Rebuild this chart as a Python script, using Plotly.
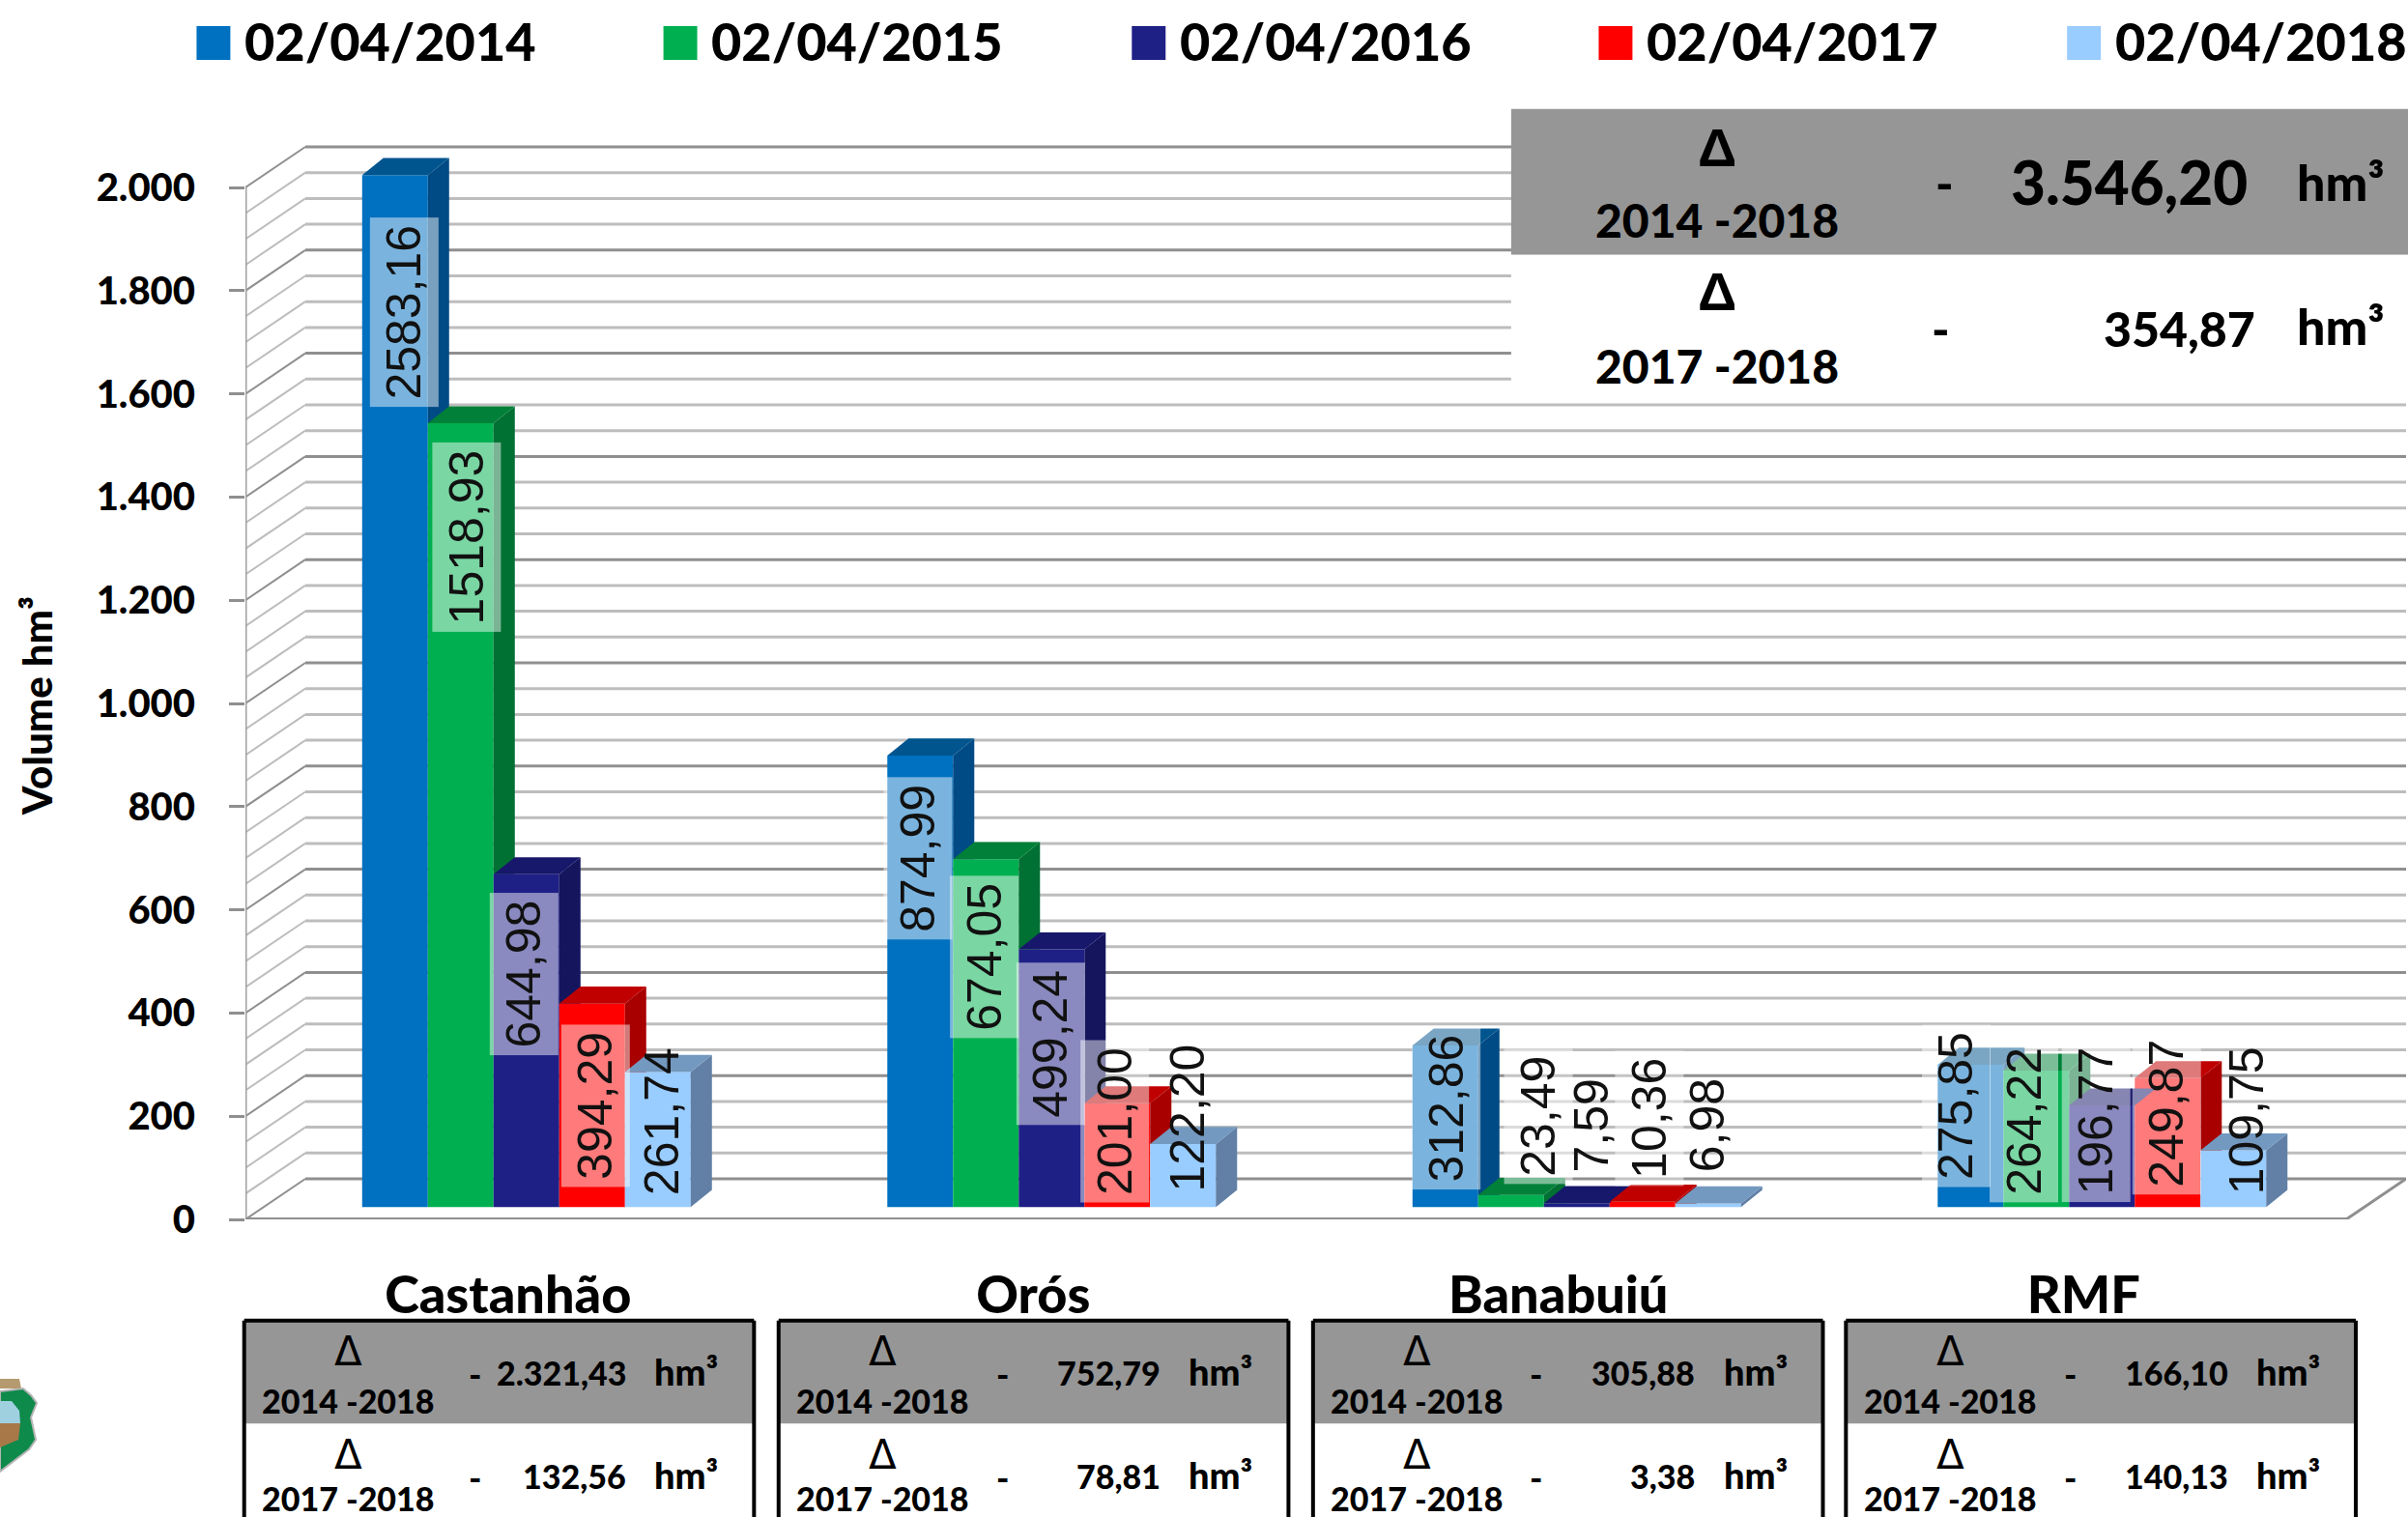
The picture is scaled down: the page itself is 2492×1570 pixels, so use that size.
import plotly.graph_objects as go

W, H = 2492, 1570
REF = 2492 / 1568  # full pixels per reference-view pixel

categories = ["Castanhão", "Orós", "Banabuiú", "RMF"]
series_names = ["02/04/2014", "02/04/2015", "02/04/2016", "02/04/2017", "02/04/2018"]
v2014 = [2583.16, 874.99, 312.86, 275.85]
v2015 = [1518.93, 674.05, 23.49, 264.22]
v2016 = [644.98, 499.24, 7.59, 196.77]
v2017 = [394.29, 201.00, 10.36, 249.87]
v2018 = [261.74, 122.20, 6.98, 109.75]
series_values = [v2014, v2015, v2016, v2017, v2018]
y_ticks = [0, 200, 400, 600, 800, 1000, 1200, 1400, 1600, 1800, 2000]
y_ticktext = ["0", "200", "400", "600", "800", "1.000", "1.200", "1.400", "1.600", "1.800", "2.000"]

summary_2014 = ["2.321,43", "752,79", "305,88", "166,10"]
summary_2017 = ["132,56", "78,81", "3,38", "140,13"]
total_2014 = "3.546,20"
total_2017 = "354,87"

front = ["#0070C0", "#00B050", "#1F2086", "#FF0000", "#99CCFF"]
side = ["#004A85", "#007033", "#15155E", "#A80000", "#6280A6"]
top = ["#00558F", "#008038", "#17176C", "#C00000", "#7399C0"]

WEIGHT = 900

# --- geometry of the plot box, in page pixels
L, R, T, B = 254.0, 2490.0, 140.0, 1262.0
UNIT = (1262 - 194) / 2000.0   # px per axis unit
CAT = 543.5                    # px per category
XMIN = -0.5
XMAX = XMIN + (R - L) / CAT
YMAX = (B - T) / UNIT
WALL_X, WALL_Y = 62 / CAT, 42 / UNIT     # depth of the back wall
BAR_Z_X, BAR_Z_Y = 19 / CAT, 24.0        # offset of the bar plane
DEPTH_X, DEPTH_Y = 22 / CAT, 33.0        # depth of one bar
BAR_W = 68 / CAT
GROUP_LEFT = -0.2778

def paper_x(px):
    return (px - L) / (R - L)

def paper_y(py):
    return (B - py) / (B - T)

def ax_x(rx):
    return (rx * REF - L) / CAT + XMIN

def ax_y(ry):
    return (B - ry * REF) / UNIT

fig = go.Figure()
shapes = []
annotations = []

# --- walls and grid, from the axis ticks
GRID_MINOR, GRID_MAJOR = "#BDBDBD", "#8F8F8F"
for level in range(0, 2001, 50):
    major = level % 200 == 0
    col = GRID_MAJOR if major else GRID_MINOR
    shapes.append(dict(type="line", xref="x", yref="y", layer="below",
                       x0=XMIN + WALL_X, x1=XMAX, y0=level + WALL_Y, y1=level + WALL_Y,
                       line=dict(color=col, width=3)))
    shapes.append(dict(type="line", xref="x", yref="y", layer="below",
                       x0=XMIN, x1=XMIN + WALL_X, y0=level, y1=level + WALL_Y,
                       line=dict(color=col, width=2)))
shapes += [
    dict(type="line", xref="x", yref="y", layer="below", x0=XMIN, x1=XMIN, y0=0, y1=2000,
         line=dict(color="#A0A0A0", width=3)),
    dict(type="line", xref="x", yref="y", layer="below", x0=XMIN, x1=3.5, y0=0, y1=0,
         line=dict(color="#8F8F8F", width=4)),
    dict(type="line", xref="x", yref="y", layer="below", x0=3.5, x1=3.5 + WALL_X, y0=0, y1=WALL_Y,
         line=dict(color="#8F8F8F", width=3)),
]

# --- 3D bars: front faces are real bars, sides and tops are polygons in axis units
for i, (name, vals) in enumerate(zip(series_names, series_values)):
    xs = [c + BAR_Z_X for c in range(len(categories))]
    shown = [min(v, 2000) for v in vals]
    offset = GROUP_LEFT - BAR_Z_X + i * BAR_W
    fig.add_trace(go.Bar(x=xs, y=shown, base=BAR_Z_Y, width=BAR_W, offset=offset, name=name,
                         marker=dict(color=front[i], line=dict(width=0)),
                         customdata=vals, hovertemplate="%{customdata}<extra>" + name + "</extra>",
                         showlegend=False))
    sx, sy, tx, ty = [], [], [], []
    nxt = series_values[i + 1] if i < 4 else [0, 0, 0, 0]
    for c, v in enumerate(shown):
        left = c + GROUP_LEFT + i * BAR_W
        right = left + BAR_W
        b = BAR_Z_Y
        t = b + v
        low = b + min(nxt[c], 2000)
        if low < t:
            sx += [right, right + DEPTH_X, right + DEPTH_X, right, right, None]
            sy += [low, low if i < 4 else b + DEPTH_Y, t + DEPTH_Y, t, low, None]
        tx += [left, left + DEPTH_X, right + DEPTH_X, right, left, None]
        ty += [t, t + DEPTH_Y, t + DEPTH_Y, t, t, None]
    fig.add_trace(go.Scatter(x=sx, y=sy, mode="lines", fill="toself", fillcolor=side[i],
                             line=dict(width=0), hoverinfo="skip", showlegend=False))
    fig.add_trace(go.Scatter(x=tx, y=ty, mode="lines", fill="toself", fillcolor=top[i],
                             line=dict(width=0), hoverinfo="skip", showlegend=False))

# --- data labels: hand-placed in the reference, so centres are read from it
label_centres = [
    [(263, 203), (304, 350), (341, 634), (388, 720), (431, 730)],
    [(598, 559), (641, 623), (684, 680), (726, 730), (773, 728)],
    [(942, 722), (1002, 727), (1036, 733), (1074, 728), (1112, 733)],
    [(1274, 720), (1318, 730), (1365, 730), (1411, 725), (1463, 730)],
]
for c, row in enumerate(label_centres):
    for i, (rx, ry) in enumerate(row):
        label = f"{series_values[i][c]:.2f}".replace(".", ",")
        plain = i == 4 or (c == 2 and i == 2)   # these labels carry no backing box
        annotations.append(dict(x=ax_x(rx), y=ax_y(ry), xref="x", yref="y", text=label,
                                textangle=-90, showarrow=False, xanchor="center", yanchor="middle",
                                font=dict(family="Liberation Sans", size=50, color="#111111"),
                                bgcolor="rgba(255,255,255,0)" if plain else "rgba(255,255,255,0.48)",
                                borderpad=7))

def text(rx, ry, s, size, anchor="center", family="Lato", weight=WEIGHT):
    annotations.append(dict(x=paper_x(rx * REF), y=paper_y(ry * REF), xref="paper", yref="paper",
                            text=s, showarrow=False, xanchor=anchor, yanchor="middle",
                            font=dict(family=family, size=size, color="#000000", weight=weight)))

def rect(rx0, ry0, rx1, ry1, fill, line=None, lw=0):
    shapes.append(dict(type="rect", xref="paper", yref="paper", layer="above",
                       x0=paper_x(rx0 * REF), x1=paper_x(rx1 * REF),
                       y0=paper_y(ry0 * REF), y1=paper_y(ry1 * REF),
                       fillcolor=fill, line=dict(color=line or "rgba(0,0,0,0)", width=lw)))

def path(points, fill, line="rgba(0,0,0,0)", lw=0):
    d = "M " + " L ".join(f"{paper_x(x)} {paper_y(y)}" for x, y in points) + " Z"
    shapes.append(dict(type="path", xref="paper", yref="paper", layer="above", path=d,
                       fillcolor=fill, line=dict(color=line, width=lw)))

# --- legend
for i, (name, x0) in enumerate(zip(series_names, [128, 432, 737, 1041, 1346])):
    rect(x0, 17, x0 + 22, 39, front[i])
    text(x0 + 30, 27, name, 54, "left")

# --- axis title
annotations.append(dict(x=paper_x(38), y=paper_y(731), xref="paper", yref="paper",
                        text="Volume hm³", textangle=-90, showarrow=False,
                        xanchor="center", yanchor="middle",
                        font=dict(family="Lato", size=42, color="#000000", weight=WEIGHT)))

# --- top-right summary
rect(984, 71, 1568, 166, "#969696")
rect(984, 166, 1568, 262, "#FFFFFF")
text(1118, 96, "Δ", 56, family="Liberation Sans", weight=700)
text(1118, 143, "2014 -2018", 48)
text(1266, 119, "-", 50)
text(1465, 118, total_2014, 62, "right")
text(1524, 118, "hm³", 52)
text(1118, 190, "Δ", 56, family="Liberation Sans", weight=700)
text(1118, 238, "2017 -2018", 48)
text(1264, 214, "-", 50)
text(1470, 214, total_2017, 50, "right")
text(1524, 212, "hm³", 52)

# --- per-reservoir summaries
table_left = [159, 507, 855, 1202]
table_minus = [150, 146, 145, 146]
for c, x0 in enumerate(table_left):
    rect(x0, 860, x0 + 332, 927, "#969696")
    for x in (x0, x0 + 332):
        shapes.append(dict(type="line", xref="paper", yref="paper", layer="above",
                           x0=paper_x(x * REF), x1=paper_x(x * REF),
                           y0=paper_y(860 * REF), y1=paper_y(H),
                           line=dict(color="#000000", width=4)))
    shapes.append(dict(type="line", xref="paper", yref="paper", layer="above",
                       x0=paper_x(x0 * REF), x1=paper_x((x0 + 332) * REF),
                       y0=paper_y(860 * REF), y1=paper_y(860 * REF),
                       line=dict(color="#000000", width=4)))
    for dy, years, val in ((0, "2014 -2018", summary_2014[c]), (67, "2017 -2018", summary_2017[c])):
        text(x0 + 68, 880 + dy, "Δ", 42, family="DejaVu Sans", weight=400)
        text(x0 + 68, min(912 + dy, 975.5), years, 34)
        text(x0 + table_minus[c], 895 + dy, "-", 36)
        text(x0 + 250, 894 + dy, val, 34, "right")
        text(x0 + 288, 893 + dy, "hm³", 38)

# --- state crest fragment at the lower-left corner
path([(0, 1427), (20, 1427), (22, 1437), (0, 1437)], "#B49A6E")
path([(0, 1440), (24, 1437), (32, 1444), (38, 1452), (32, 1467), (37, 1490), (30, 1500), (0, 1523)],
     "#0E8A4B", "#B4B4B4", 2)
path([(0, 1450), (12, 1450), (20, 1460), (21, 1473), (0, 1473)], "#9FD0E0")
path([(0, 1473), (21, 1473), (19, 1490), (0, 1498)], "#A87848")

fig.update_layout(
    width=W, height=H, autosize=False, barmode="overlay", showlegend=False,
    paper_bgcolor="#FFFFFF", plot_bgcolor="rgba(0,0,0,0)",
    margin=dict(l=L, r=W - R, t=T, b=H - B, pad=0),
    font=dict(family="Lato", color="#000000"),
    shapes=shapes, annotations=annotations,
    xaxis=dict(range=[XMIN, XMAX], tickmode="array", tickvals=list(range(4)), ticktext=categories,
               showgrid=False, zeroline=False, showline=False, ticks="outside", ticklen=31,
               tickcolor="rgba(0,0,0,0)", tickfont=dict(family="Lato", size=54, weight=WEIGHT, color="#000000")),
    yaxis=dict(range=[0, YMAX], tickmode="array", tickvals=y_ticks, ticktext=y_ticktext,
               showgrid=False, zeroline=False, showline=False, ticks="outside", ticklen=16,
               tickcolor="#8F8F8F", tickwidth=3, ticklabelstandoff=27,
               tickfont=dict(family="Lato", size=40, weight=WEIGHT, color="#000000")),
)

fig.write_html("out.html", config=dict(displayModeBar=False),
               post_script="document.body.style.margin='0';")
